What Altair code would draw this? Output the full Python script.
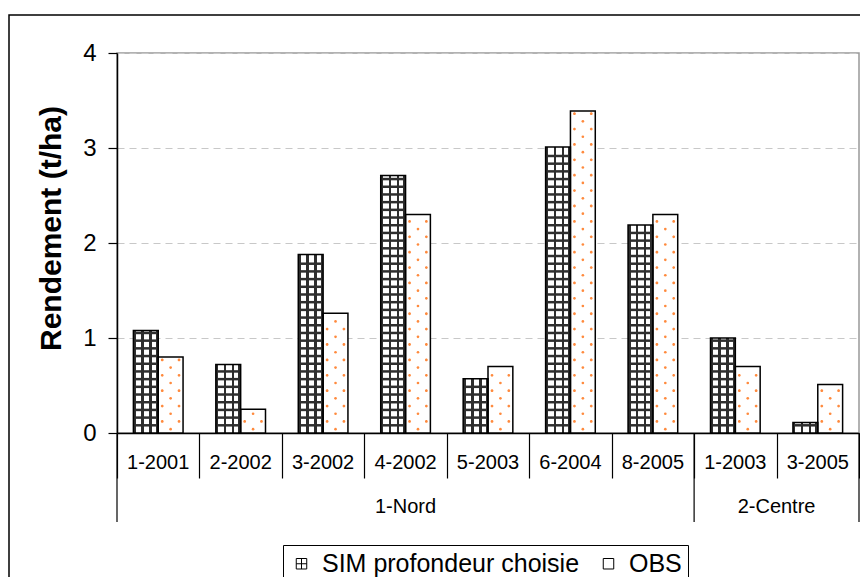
import altair as alt
import pandas as pd
import numpy as np

# ---- data ----
categories = ["1-2001", "2-2002", "3-2002", "4-2002", "5-2003", "6-2004", "8-2005", "1-2003", "3-2005"]
groups = ["1-Nord"] * 7 + ["2-Centre"] * 2
sim = [1.08, 0.72, 1.88, 2.71, 0.57, 3.01, 2.19, 1.00, 0.11]
obs = [0.80, 0.25, 1.26, 2.30, 0.70, 3.39, 2.30, 0.70, 0.51]
series_keys = ["SIM", "OBS"]
series_names = ["SIM profondeur choisie", "OBS"]
y_ticks = [0, 1, 2, 3, 4]

FONT = "Liberation Sans"
W, H = 742, 380
DARK = "#2e2e2e"
ORANGE = "#FF8A3D"
STEP = 0.081  # pattern row spacing (decoration only)

bars = pd.DataFrame({
    "cat": categories * 2,
    "series": ["SIM"] * len(sim) + ["OBS"] * len(obs),
    "value": sim + obs,
})

# pattern decoration tables built from the values
hrows, cdots, sdots = [], [], []
for c, v in zip(categories, sim):
    for y in np.arange(STEP, v - 0.02, STEP):
        hrows.append({"cat": c, "series": "SIM", "value": float(y)})
for c, v in zip(categories, obs):
    for k, y in enumerate(np.arange(STEP / 2, v - 0.02, STEP)):
        (cdots if k % 2 == 0 else sdots).append({"cat": c, "series": "OBS", "value": float(y)})
hrows = pd.DataFrame(hrows)
cdots = pd.DataFrame(cdots)
sdots = pd.DataFrame(sdots)

xscale = alt.Scale(domain=categories, paddingInner=0, paddingOuter=0)
xaxis = alt.Axis(labels=False, title=None, tickBand="extent", tickSize=45, tickColor="#000",
                 tickWidth=1.2, domainColor="#000", domainWidth=1.5, grid=False)


def X(bp=None):
    if bp is None:
        return alt.X("cat:N", scale=xscale, axis=xaxis)
    return alt.X("cat:N", scale=xscale, axis=xaxis, bandPosition=bp)


xoff = alt.XOffset("series:N", scale=alt.Scale(domain=series_keys, paddingInner=0, paddingOuter=0.66))
yenc = alt.Y("value:Q", scale=alt.Scale(domain=[0, 4], nice=False),
             axis=alt.Axis(values=y_ticks, title="Rendement (t/ha)", titleFont=FONT, titleFontSize=30,
                           titleFontWeight="bold", titleColor="#000", titleX=-66, titleY=175,
                           titleAngle=270, titleAlign="center", titleBaseline="middle",
                           labelFont=FONT, labelFontSize=24, labelColor="#000", labelPadding=12,
                           tickSize=9, tickColor="#000", tickWidth=1.2,
                           domainColor="#000", domainWidth=1.5,
                           grid=True, gridColor="#c8c8c8", gridDash=[7, 5], gridWidth=1.2))

stops = []
prev = None
for a, b in [(0.0, 0.10), (0.32, 0.42), (0.64, 0.74), (0.90, 1.0)]:
    if prev is not None:
        stops += [alt.GradientStop(offset=prev, color="#ffffff"), alt.GradientStop(offset=a, color="#ffffff")]
    stops += [alt.GradientStop(offset=a, color=DARK), alt.GradientStop(offset=b, color=DARK)]
    prev = b
sim_fill = alt.LinearGradient(gradient="linear", stops=stops, x1=0, x2=1, y1=0, y2=0)

base = alt.Chart(bars)

sim_bars = base.transform_filter("datum.series == 'SIM'").mark_bar(fill=sim_fill).encode(
    x=X(), xOffset=xoff, y=yenc)
obs_bars = base.transform_filter("datum.series == 'OBS'").mark_bar(fill="white").encode(
    x=X(), xOffset=xoff, y=yenc)

hlines = alt.Chart(hrows).mark_point(shape="M-1,0L1,0", size=600, filled=False, stroke=DARK,
                                     strokeWidth=2.5, opacity=1).encode(x=X(), xOffset=xoff, y=yenc)
two_dots = ("M-0.98,0A0.14,0.14 0 1,0 -0.70,0A0.14,0.14 0 1,0 -0.98,0Z "
            "M0.70,0A0.14,0.14 0 1,0 0.98,0A0.14,0.14 0 1,0 0.70,0Z")
side_dots = alt.Chart(sdots).mark_point(shape=two_dots, size=400, filled=True, fill=ORANGE,
                                        strokeWidth=0, opacity=1).encode(x=X(), xOffset=xoff, y=yenc)
mid_dots = alt.Chart(cdots).mark_point(shape="circle", size=7, filled=True, fill=ORANGE,
                                       strokeWidth=0, opacity=1).encode(x=X(), xOffset=xoff, y=yenc)

outlines = base.mark_bar(fillOpacity=0, stroke="#000", strokeWidth=1.5).encode(
    x=X(), xOffset=xoff, y=yenc)

# category labels and group structure under the axis
cat_df = pd.DataFrame({"cat": categories, "group": groups})
cat_labels = alt.Chart(cat_df).mark_text(font=FONT, fontSize=20, color="#000", baseline="middle").encode(
    x=X(), y=alt.value(410), text="cat:N")

group_start = cat_df.drop_duplicates("group")
long_start = alt.Chart(group_start).mark_rule(color="#000", strokeWidth=1.2).encode(
    x=X(0), y=alt.value(380), y2=alt.value(469))
long_end = alt.Chart(cat_df.tail(1)).mark_rule(color="#000", strokeWidth=1.2).encode(
    x=X(1), y=alt.value(380), y2=alt.value(469))

nord_n = groups.count("1-Nord")
nord_mid = pd.DataFrame({"cat": [categories[nord_n // 2]], "group": ["1-Nord"]})
centre_mid = pd.DataFrame({"cat": [categories[nord_n + 1]], "group": ["2-Centre"]})
nord_label = alt.Chart(nord_mid).mark_text(font=FONT, fontSize=20, color="#000", baseline="middle").encode(
    x=X(), y=alt.value(454), text="group:N")
centre_label = alt.Chart(centre_mid).mark_text(font=FONT, fontSize=20, color="#000", baseline="middle").encode(
    x=X(0), y=alt.value(454), text="group:N")

# legend
grid_sym = "M-1,-1H1V1H-1Z M0,-1V1 M-1,0H1"
box_sym = "M-1,-1H1V1H-1Z"
leg_df = pd.DataFrame({"name": series_names})
legend = alt.Chart(leg_df).transform_filter("false").mark_point(
    filled=False, color="#000", strokeWidth=1, opacity=1).encode(
    shape=alt.Shape("name:N", scale=alt.Scale(domain=series_names, range=[grid_sym, box_sym]),
                    legend=alt.Legend(title=None, orient="none", legendX=166, legendY=492,
                                      direction="horizontal", padding=6, strokeColor="#000",
                                      fillColor="white", labelFont=FONT, labelFontSize=25,
                                      labelColor="#000", labelOffset=8, columnPadding=16,
                                      labelLimit=500, symbolSize=110,
                                      symbolStrokeColor="#000", symbolStrokeWidth=1,
                                      symbolOpacity=1)))

frame = alt.Chart(pd.DataFrame({"k": [0]})).mark_rect(fillOpacity=0, stroke="#000", strokeWidth=1.5).encode(
    x=alt.value(-108), x2=alt.value(780), y=alt.value(-38), y2=alt.value(620))

chart = alt.layer(
    frame, sim_bars, obs_bars, hlines, side_dots, mid_dots, outlines,
    cat_labels, long_start, long_end, nord_label, centre_label, legend,
).properties(
    width=W, height=H,
    autosize=alt.AutoSizeParams(type="none"),
    padding={"left": 109, "top": 45, "right": 1, "bottom": 144},
    background="white",
).configure_view(stroke="#999", strokeWidth=1.5)

chart.save("out.html", embed_options={"renderer": "svg", "actions": False})
